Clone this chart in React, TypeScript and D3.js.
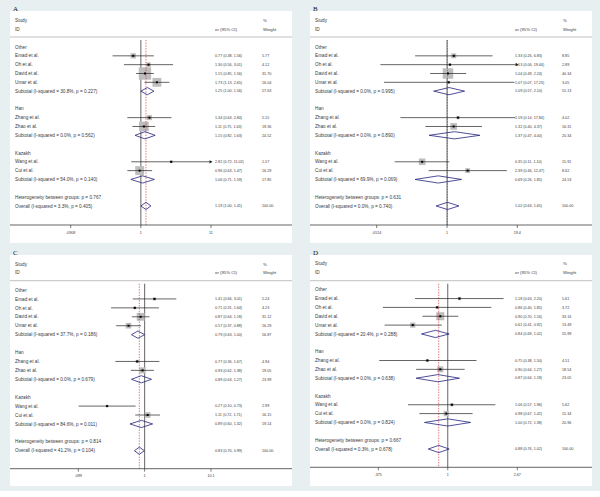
import React from "react";
import * as d3 from "d3";

// ---------- shared data ----------
const studyNames = ["Emad et al.", "Oh et al.", "David et al.", "Umar et al.", "Zhang et al.", "Zhao et al.", "Wang et al.", "Cui et al."];
const groupNames = ["Other", "Han", "Kazakh"];
const groupSizes = [4, 2, 2];
const panelLetters = ["A", "B", "C", "D"];

// ---------- panel A ----------
const orA = [0.77, 1.30, 1.15, 1.73, 1.34, 1.11, 2.82, 0.96];
const loA = [0.38, 0.56, 0.85, 1.13, 0.63, 0.75, 0.72, 0.63];
const hiA = [1.56, 3.01, 1.56, 2.65, 2.84, 1.63, 11.02, 1.47];
const wA = [5.77, 4.12, 31.70, 16.04, 5.15, 19.36, 1.57, 16.29];
const subOrA = [1.25, 1.15, 1.06];
const subLoA = [1.00, 0.82, 0.71];
const subHiA = [1.56, 1.63, 1.59];
const subWA = [57.63, 24.52, 17.85];
const subI2A = [30.8, 0.0, 54.0];
const subPA = [0.227, 0.562, 0.140];
const hetPA = 0.767;
const overallA = [1.19, 1.00, 1.41];
const overallI2A = 3.3;
const overallPA = 0.405;
const ticksA = [0.0908, 1, 11];
const tickLabelsA = [".0908", "1", "11"];

// ---------- panel B ----------
const orB = [1.33, 1.13, 1.04, 1.07, 1.59, 1.32, 0.35, 2.39];
const loB = [0.26, 0.06, 0.49, 0.07, 0.14, 0.40, 0.11, 0.46];
const hiB = [6.83, 19.44, 2.24, 17.23, 17.84, 4.37, 1.10, 12.47];
const wB = [8.85, 2.89, 40.34, 3.05, 4.02, 16.31, 15.91, 8.62];
const subOrB = [1.09, 1.37, 0.69];
const subLoB = [0.57, 0.47, 0.26];
const subHiB = [2.10, 4.00, 1.85];
const subWB = [55.13, 20.34, 24.53];
const subI2B = [0.0, 0.0, 69.9];
const subPB = [0.995, 0.890, 0.069];
const hetPB = 0.631;
const overallB = [1.02, 0.63, 1.65];
const overallI2B = 0.0;
const overallPB = 0.740;
const ticksB = [0.0514, 1, 19.4];
const tickLabelsB = [".0514", "1", "19.4"];

// ---------- panel C ----------
const orC = [1.41, 0.71, 0.87, 0.57, 0.77, 0.93, 0.27, 1.11];
const loC = [0.66, 0.31, 0.64, 0.37, 0.36, 0.62, 0.10, 0.72];
const hiC = [3.01, 1.64, 1.18, 0.88, 1.67, 1.38, 0.73, 1.71];
const wC = [5.24, 4.23, 31.12, 16.29, 4.94, 19.05, 2.99, 16.15];
const subOrC = [0.79, 0.89, 0.89];
const subLoC = [0.63, 0.63, 0.60];
const subHiC = [1.00, 1.27, 1.32];
const subWC = [56.87, 23.99, 19.14];
const subI2C = [37.7, 0.0, 84.6];
const subPC = [0.186, 0.679, 0.011];
const hetPC = 0.814;
const overallC = [0.83, 0.70, 0.99];
const overallI2C = 41.2;
const overallPC = 0.104;
const ticksC = [0.099, 1, 10.1];
const tickLabelsC = [".099", "1", "10.1"];

// ---------- panel D ----------
const orD = [1.18, 0.86, 0.90, 0.61, 0.75, 0.90, 1.06, 0.98];
const loD = [0.63, 0.40, 0.70, 0.41, 0.38, 0.64, 0.57, 0.67];
const hiD = [2.20, 1.85, 1.16, 0.92, 1.50, 1.27, 1.96, 1.42];
const wD = [5.61, 3.72, 33.16, 13.49, 4.51, 18.54, 5.62, 15.34];
const subOrD = [0.84, 0.87, 1.00];
const subLoD = [0.69, 0.64, 0.72];
const subHiD = [1.02, 1.18, 1.38];
const subWD = [55.99, 23.05, 20.96];
const subI2D = [20.4, 0.0, 0.0];
const subPD = [0.288, 0.638, 0.824];
const hetPD = 0.667;
const overallD = [0.88, 0.76, 1.02];
const overallI2D = 0.3;
const overallPD = 0.678;
const ticksD = [0.375, 1, 2.67];
const tickLabelsD = [".375", "1", "2.67"];

const panelsData = [
  { or: orA, lo: loA, hi: hiA, w: wA, subOr: subOrA, subLo: subLoA, subHi: subHiA, subW: subWA, subI2: subI2A, subP: subPA, hetP: hetPA, overall: overallA, oI2: overallI2A, oP: overallPA, ticks: ticksA, tickLabels: tickLabelsA },
  { or: orB, lo: loB, hi: hiB, w: wB, subOr: subOrB, subLo: subLoB, subHi: subHiB, subW: subWB, subI2: subI2B, subP: subPB, hetP: hetPB, overall: overallB, oI2: overallI2B, oP: overallPB, ticks: ticksB, tickLabels: tickLabelsB },
  { or: orC, lo: loC, hi: hiC, w: wC, subOr: subOrC, subLo: subLoC, subHi: subHiC, subW: subWC, subI2: subI2C, subP: subPC, hetP: hetPC, overall: overallC, oI2: overallI2C, oP: overallPC, ticks: ticksC, tickLabels: tickLabelsC },
  { or: orD, lo: loD, hi: hiD, w: wD, subOr: subOrD, subLo: subLoD, subHi: subHiD, subW: subWD, subI2: subI2D, subP: subPD, hetP: hetPD, overall: overallD, oI2: overallI2D, oP: overallPD, ticks: ticksD, tickLabels: tickLabelsD },
];

// ---------- layout ----------
const layouts = [
  { ox: 0, oy: 0, bgH: 248, wTop: 11, wBot: 243, studyY: 20, idY: 29, lineY: 37, firstY: 47, step: 8.83, axisY: 225, xLo: 70.7, xHi: 211, boxK: 2.2 },
  { ox: 300, oy: 0, bgH: 248, wTop: 11, wBot: 243, studyY: 20, idY: 29, lineY: 37, firstY: 47, step: 8.83, axisY: 225, xLo: 76.7, xHi: 217.3, boxK: 1.65 },
  { ox: 0, oy: 248, bgH: 243, wTop: 7, wBot: 238, studyY: 16, idY: 24.5, lineY: 32.7, firstY: 42, step: 8.93, axisY: 220.7, xLo: 78.3, xHi: 211, boxK: 1.4 },
  { ox: 300, oy: 248, bgH: 243, wTop: 7, wBot: 238, studyY: 15.5, idY: 24, lineY: 32.7, firstY: 41.7, step: 8.85, axisY: 219.3, xLo: 78.3, xHi: 217.3, boxK: 1.4 },
];

const BG = "#e8eff1";
const TXT = "#3a3a3a";
const FONT = "'Liberation Sans', Arial, sans-serif";
const LBL = 4.7;
const NUM = 3.7;
const f2 = d3.format(".2f");
const f1 = d3.format(".1f");
const f3 = d3.format(".3f");

type Row =
  | { kind: "group"; label: string }
  | { kind: "study"; label: string; or: number; lo: number; hi: number; w: number }
  | { kind: "sub"; label: string; or: number; lo: number; hi: number; w: number }
  | { kind: "het"; label: string }
  | { kind: "blank" };

function buildRows(d: any): Row[] {
  const rows: Row[] = [];
  let s = 0;
  groupNames.forEach((g, gi) => {
    rows.push({ kind: "group", label: g });
    for (let k = 0; k < groupSizes[gi]; k++, s++) {
      rows.push({ kind: "study", label: studyNames[s], or: d.or[s], lo: d.lo[s], hi: d.hi[s], w: d.w[s] });
    }
    rows.push({
      kind: "sub",
      label: `Subtotal  (I-squared = ${f1(d.subI2[gi])}%, p = ${f3(d.subP[gi])})`,
      or: d.subOr[gi], lo: d.subLo[gi], hi: d.subHi[gi], w: d.subW[gi],
    });
    rows.push({ kind: "blank" });
  });
  rows.push({ kind: "het", label: `Heterogeneity between groups: p = ${f3(d.hetP)}` });
  rows.push({
    kind: "sub",
    label: `Overall  (I-squared = ${f1(d.oI2)}%, p = ${f3(d.oP)})`,
    or: d.overall[0], lo: d.overall[1], hi: d.overall[2], w: 100,
  });
  return rows;
}

function Panel({ idx }: { idx: number }) {
  const d = panelsData[idx];
  const L = layouts[idx];
  const x = d3.scaleLog().domain([d.ticks[0], d.ticks[2]]).range([L.xLo, L.xHi]);
  const maxW = d3.max(d.w) as number;
  const box = d3.scaleSqrt().domain([0, maxW]).range([0, L.boxK * Math.sqrt(maxW)]);
  const rows = buildRows(d);
  const ry = (i: number) => L.firstY + i * L.step;
  const wl = 10, wr = 292;
  const x1 = x(1);
  const xo = x(d.overall[0]);
  const dh = 3.6;
  return (
    <g transform={`translate(${L.ox},${L.oy})`}>
      <rect x={0} y={0} width={300} height={L.bgH} fill={BG} />
      <rect x={wl} y={L.wTop} width={wr - wl} height={L.wBot - L.wTop} fill="#ffffff" />
      <text x={13} y={L.wTop} fontFamily="'Liberation Serif', 'Times New Roman', serif" fontSize={7} fill="#111">{panelLetters[idx]}</text>
      <g fontFamily={FONT} fill={TXT}>
        <text x={15} y={L.studyY} dy="0.35em" fontSize={LBL}>Study</text>
        <text x={15} y={L.idY} dy="0.35em" fontSize={LBL}>ID</text>
        <text x={215} y={L.idY} dy="0.35em" fontSize={LBL - 0.4}>or (95% CI)</text>
        <text x={263} y={L.studyY} dy="0.35em" fontSize={LBL - 0.4}>%</text>
        <text x={263} y={L.idY} dy="0.35em" fontSize={LBL - 0.4}>Weight</text>
      </g>
      <line x1={wl} x2={wr} y1={L.lineY} y2={L.lineY} stroke="#999" strokeWidth={0.6} />
      <line x1={x1} x2={x1} y1={L.lineY + 3} y2={L.axisY} stroke="#222" strokeWidth={0.7} />
      {rows.map((r, i) => {
        if (r.kind !== "study") return null;
        const s = box(r.w);
        return <rect key={"b" + i} x={x(r.or) - s / 2} y={ry(i) - s / 2} width={s} height={s} fill="#bdbdbd" />;
      })}
      <line x1={xo} x2={xo} y1={L.lineY + 3} y2={L.axisY} stroke="#c8262c" strokeWidth={0.6} strokeDasharray="1.5,1.2" />
      {rows.map((r, i) => {
        const y = ry(i);
        const items: any[] = [];
        if (r.kind === "group" || r.kind === "het") {
          items.push(<text key="t" x={15} y={y} dy="0.35em" fontSize={LBL} fontFamily={FONT} fill={TXT}>{r.label}</text>);
        }
        if (r.kind === "study" || r.kind === "sub") {
          items.push(<text key="t" x={15} y={y} dy="0.35em" fontSize={LBL} fontFamily={FONT} fill={TXT}>{r.label}</text>);
          items.push(<text key="e" x={215} y={y} dy="0.35em" fontSize={NUM} fontFamily={FONT} fill={TXT}>{`${f2(r.or)} (${f2(r.lo)}, ${f2(r.hi)})`}</text>);
          items.push(<text key="w" x={262} y={y} dy="0.35em" fontSize={NUM} fontFamily={FONT} fill={TXT}>{f2(r.w)}</text>);
        }
        if (r.kind === "study") {
          const top = d.ticks[2];
          const bot = d.ticks[0];
          const hiC = Math.min(r.hi, top);
          const loC = Math.max(r.lo, bot);
          const xa = x(loC), xb = x(hiC);
          items.push(<line key="ci" x1={xa} x2={xb} y1={y} y2={y} stroke="#222" strokeWidth={0.7} />);
          items.push(<rect key="m" x={x(r.or) - 1} y={y - 1} width={2} height={2} fill="#000" />);
          if (r.hi > top) {
            items.push(<path key="ar" d={`M${xb + 1.5},${y} L${xb - 1.5},${y - 1.6} L${xb - 1.5},${y + 1.6} Z`} fill="#222" />);
          }
          if (r.lo < bot) {
            items.push(<path key="al" d={`M${xa - 1.5},${y} L${xa + 1.5},${y - 1.6} L${xa + 1.5},${y + 1.6} Z`} fill="#222" />);
          }
        }
        if (r.kind === "sub") {
          const a = x(r.lo), c = x(r.or), b = x(r.hi);
          items.push(<path key="dm" d={`M${a},${y} L${c},${y - dh} L${b},${y} L${c},${y + dh} Z`} fill="none" stroke="#23237e" strokeWidth={0.8} />);
        }
        return <g key={i}>{items}</g>;
      })}
      <line x1={wl} x2={wr} y1={L.axisY} y2={L.axisY} stroke="#222" strokeWidth={0.7} />
      {d.ticks.map((t: number, i: number) => (
        <g key={"tk" + i}>
          <line x1={x(t)} x2={x(t)} y1={L.axisY} y2={L.axisY + 3} stroke="#222" strokeWidth={0.6} />
          <text x={x(t)} y={L.axisY + 7.5} dy="0.35em" textAnchor="middle" fontSize={NUM} fontFamily={FONT} fill={TXT}>{d.tickLabels[i]}</text>
        </g>
      ))}
    </g>
  );
}

export default function App() {
  return (
    <svg width={600} height={497} style={{ position: "absolute", left: 0, top: 0, background: "#ffffff" }}>
      {[0, 1, 2, 3].map((i) => <Panel key={i} idx={i} />)}
    </svg>
  );
}
